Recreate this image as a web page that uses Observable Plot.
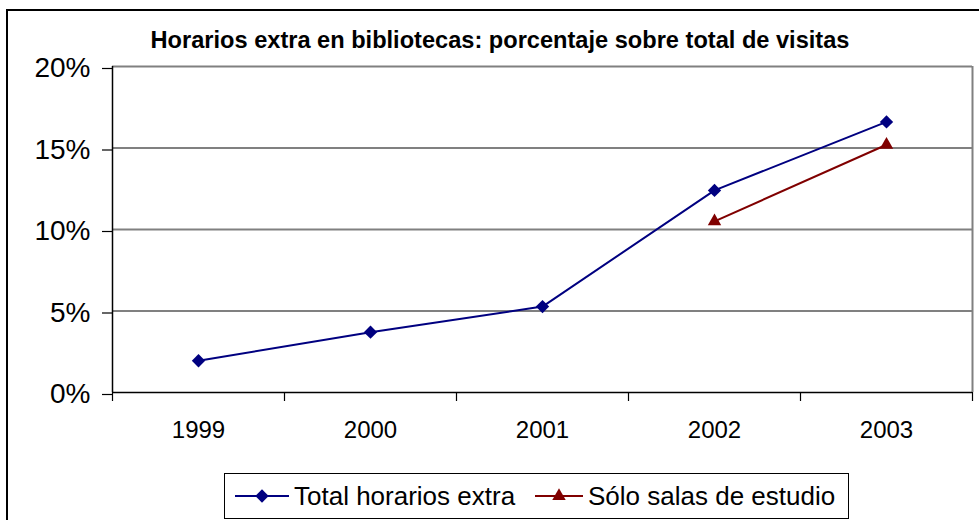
<!DOCTYPE html>
<html>
<head>
<meta charset="utf-8">
<script src="https://cdn.jsdelivr.net/npm/d3@7"></script>
<script src="https://cdn.jsdelivr.net/npm/@observablehq/plot@0.6"></script>
<style>
  html, body { margin: 0; padding: 0; background: #fff; }
  #wrap { position: relative; width: 979px; height: 520px; overflow: hidden; font-family: Arial, "Liberation Sans", sans-serif; }
  #frame { position: absolute; left: 6px; top: 9px; width: 1000px; height: 600px; border: 2px solid #000; box-sizing: border-box; pointer-events: none; }
  #title { position: absolute; left: 0; width: 1000px; top: 27px; text-align: center; font-weight: bold; font-size: 23.6px; color: #000; white-space: nowrap; }
  #legend { position: absolute; left: 224px; top: 473px; width: 625px; height: 46px; border: 1px solid #000; box-sizing: border-box; font-size: 26px; color: #000; white-space: nowrap; background: #fff; }
  #legend .item { position: absolute; top: 0; height: 44px; display: flex; align-items: center; }
  #legend .item svg { position: absolute; top: 12px; }
  #legend .item span { position: absolute; top: 6px; line-height: 32px; }
  #plot { position: absolute; left: 0; top: 0; }
</style>
</head>
<body>
<div id="wrap">
  <div id="plot"></div>
  <div id="title"></div>
  <div id="legend"></div>
  <div id="frame"></div>
</div>
<script>
const titleText = "Horarios extra en bibliotecas: porcentaje sobre total de visitas";
const years = [1999, 2000, 2001, 2002, 2003];
const totalValues = [1.95, 3.7, 5.27, 12.4, 16.6];
const studyYears = [2002, 2003];
const studyValues = [10.5, 15.2];
const yTicks = [0, 5, 10, 15, 20];
const seriesNames = ["Total horarios extra", "Sólo salas de estudio"];
const seriesColors = ["#000080", "#800000"];

const totalData = years.map((y, i) => ({year: y, value: totalValues[i]}));
const studyData = studyYears.map((y, i) => ({year: y, value: studyValues[i]}));
const bounds = [...years.map(y => y - 0.5), years[years.length - 1] + 0.5];

const chart = Plot.plot({
  width: 979,
  height: 520,
  marginLeft: 112,
  marginRight: 7,
  marginTop: 66,
  marginBottom: 128,
  style: {fontFamily: 'Arial, "Liberation Sans", sans-serif', background: "transparent", color: "#000"},
  x: {type: "linear", domain: [bounds[0], bounds[bounds.length - 1]]},
  y: {domain: [0, 20]},
  marks: [
    Plot.ruleY(yTicks.filter(d => d > 0), {stroke: "#808080", strokeWidth: 2}),
    Plot.ruleX([bounds[bounds.length - 1]], {stroke: "#808080", strokeWidth: 2}),
    Plot.axisY(yTicks, {tickSize: 10, tickPadding: 12, tickFormat: d => d + "%", fontSize: 28, dy: 2, stroke: "#000", strokeWidth: 1.2, label: null}),
    Plot.axisX(bounds, {tickSize: 9, tickFormat: () => "", stroke: "#000", strokeWidth: 1.2, label: null}),
    Plot.axisX(years, {tickSize: 0, tickPadding: 28, tickFormat: d => String(d), fontSize: 24, label: null}),
    Plot.ruleX([bounds[0]], {stroke: "#000", strokeWidth: 1.5}),
    Plot.ruleY([0], {stroke: "#000", strokeWidth: 1.5}),
    Plot.line(totalData, {x: "year", y: "value", stroke: seriesColors[0], strokeWidth: 2}),
    Plot.dot(totalData, {x: "year", y: "value", symbol: "diamond2", r: 6, fill: seriesColors[0], stroke: "none"}),
    Plot.line(studyData, {x: "year", y: "value", stroke: seriesColors[1], strokeWidth: 2}),
    Plot.dot(studyData, {x: "year", y: "value", symbol: "triangle", r: 5, fill: seriesColors[1], stroke: "none"})
  ]
});
document.getElementById("plot").appendChild(chart);

document.getElementById("title").textContent = titleText;

const legend = d3.select("#legend");
const symbols = [d3.symbolDiamond2, d3.symbolTriangle];
const sizes = [Math.PI * 36, Math.PI * 25];
const itemLayout = [
  {lineLeft: 10, lineWidth: 54, textLeft: 69},
  {lineLeft: 310, lineWidth: 48, textLeft: 363}
];
seriesNames.forEach((name, i) => {
  const L = itemLayout[i];
  const item = legend.append("div").attr("class", "item").style("left", "0px");
  const svg = item.append("svg").attr("width", L.lineWidth).attr("height", 20).style("left", L.lineLeft + "px");
  svg.append("line").attr("x1", 0).attr("x2", L.lineWidth).attr("y1", 10).attr("y2", 10)
    .attr("stroke", seriesColors[i]).attr("stroke-width", 2);
  svg.append("path").attr("d", d3.symbol(symbols[i], sizes[i])())
    .attr("transform", `translate(${L.lineWidth / 2},10)`).attr("fill", seriesColors[i]);
  item.append("span").text(name).style("left", L.textLeft + "px");
});
</script>
</body>
</html>
